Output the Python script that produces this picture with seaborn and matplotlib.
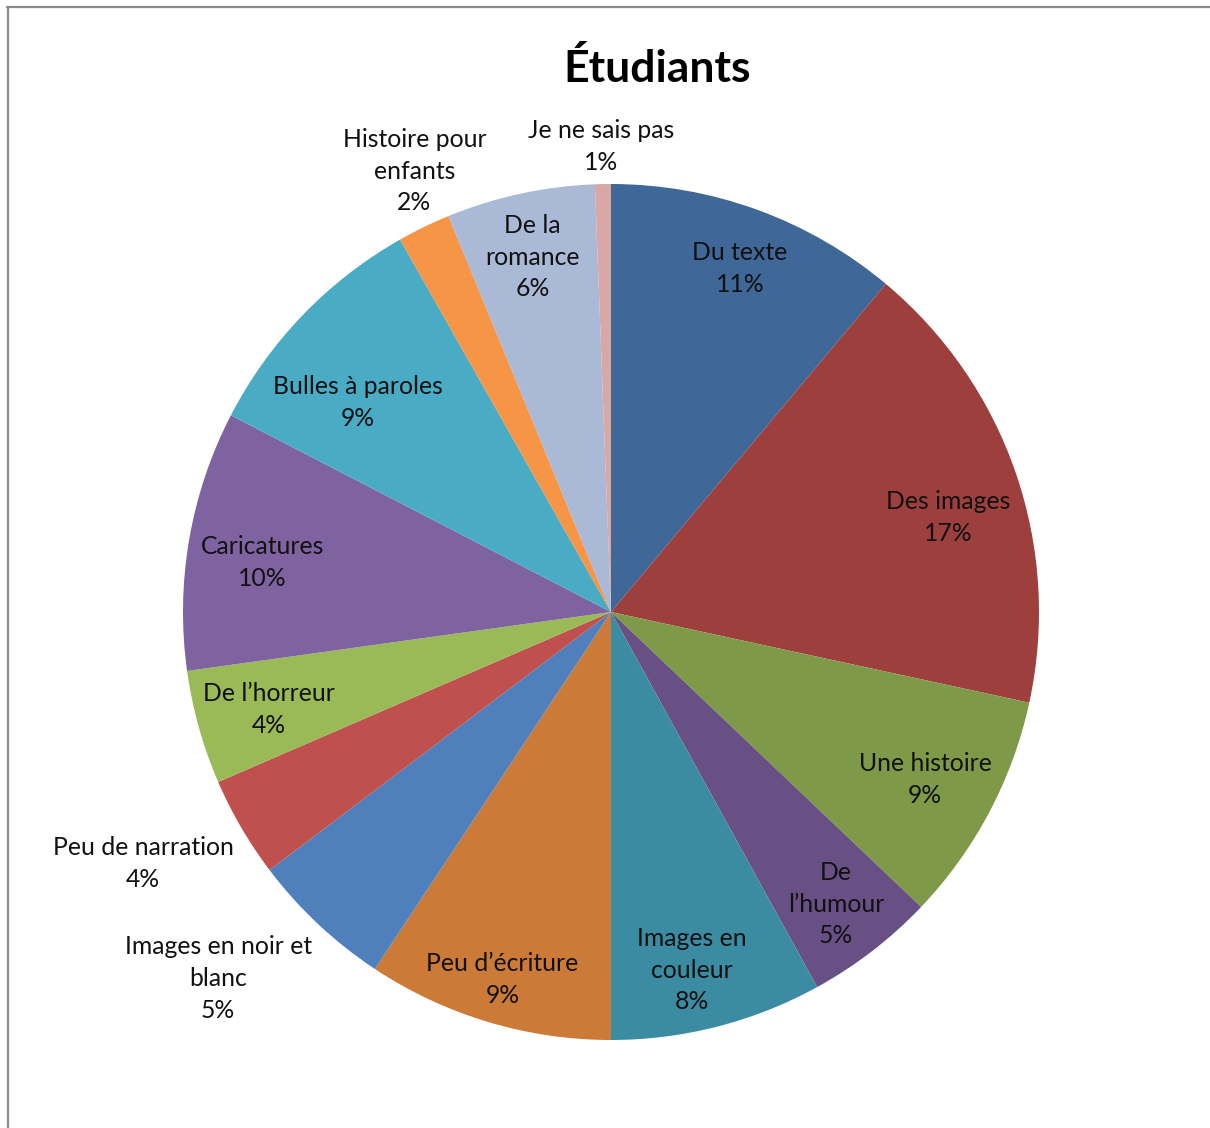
import numpy as np
import matplotlib
matplotlib.use("Agg")
import matplotlib.pyplot as plt
from matplotlib.lines import Line2D
import seaborn as sns

# Survey answers (share of students, %), clockwise from 12 o'clock
categories = [
    "Du texte", "Des images", "Une histoire", "De\nl\u2019humour",
    "Images en\ncouleur", "Peu d\u2019\u00e9criture", "Images en noir et\nblanc",
    "Peu de narration", "De l\u2019horreur", "Caricatures",
    "Bulles \u00e0 paroles", "Histoire pour\nenfants", "De la\nromance",
    "Je ne sais pas",
]
shares = [11.1, 17.3, 8.7, 4.9, 8.0, 9.3, 5.4, 3.8, 4.3, 9.8, 9.2, 2.0, 5.6, 0.6]

colors = [
    "#3F6797", "#9D403D", "#7E9A48", "#684F84", "#3B8CA2", "#CB7A37",
    "#4F80BC", "#BF504D", "#9ABA58", "#7F63A1", "#4AABC5", "#F69545",
    "#A9B9D6", "#D8A7A6",
]

# label placement: distance from the centre (in pie radii) and a small
# clockwise shift (degrees) away from each wedge's mid-angle
label_radius = [0.858, 0.818, 0.832, 0.862, 0.858, 0.896, 1.255, 1.241,
                0.831, 0.823, 0.767, 1.128, 0.849, 1.087]
label_shift = [0.6, 3.2, 0.2, 0.0, 1.7, -0.3, 3.8, 2.0,
               -0.3, -1.7, -4.3, 1.9, -0.2, -0.1]

sns.set_theme(style="white")
plt.rcParams["font.family"] = ["Lato", "DejaVu Sans"]

W, H = 1210, 1128
fig = plt.figure(figsize=(W / 100, H / 100), dpi=100)
fig.patch.set_facecolor("white")

cx, cy, R = 611, 612, 428
ax = fig.add_axes([(cx - R) / W, (H - cy - R) / H, 2 * R / W, 2 * R / H])
ax.set_axis_off()

wedges, _ = ax.pie(
    shares, colors=colors, startangle=90, counterclock=False,
    radius=1.0, wedgeprops=dict(linewidth=0, antialiased=True),
)
ax.set_xlim(-1, 1)
ax.set_ylim(-1, 1)

for w, name, v, r, s in zip(wedges, categories, shares, label_radius, label_shift):
    theta = np.deg2rad((w.theta1 + w.theta2) / 2 - s)
    ax.text(r * np.cos(theta), r * np.sin(theta), f"{name}\n{v:.0f}%",
            ha="center", va="center", multialignment="center",
            fontsize=17.8, color="#111111", linespacing=1.46, clip_on=False)

fig.text(657 / W, 1 - 82 / H, "\u00c9tudiants", ha="center", va="baseline",
         fontsize=32, fontweight="bold", color="black")

# chart area frame (top and left edges)
fig.add_artist(Line2D([7 / W, 1.0], [1 - 7 / H, 1 - 7 / H], color="#888888",
                      linewidth=1.6, transform=fig.transFigure))
fig.add_artist(Line2D([8 / W, 8 / W], [0.0, 1 - 7 / H], color="#888888",
                      linewidth=1.6, transform=fig.transFigure))

fig.savefig("out.png", dpi=100, facecolor="white")
